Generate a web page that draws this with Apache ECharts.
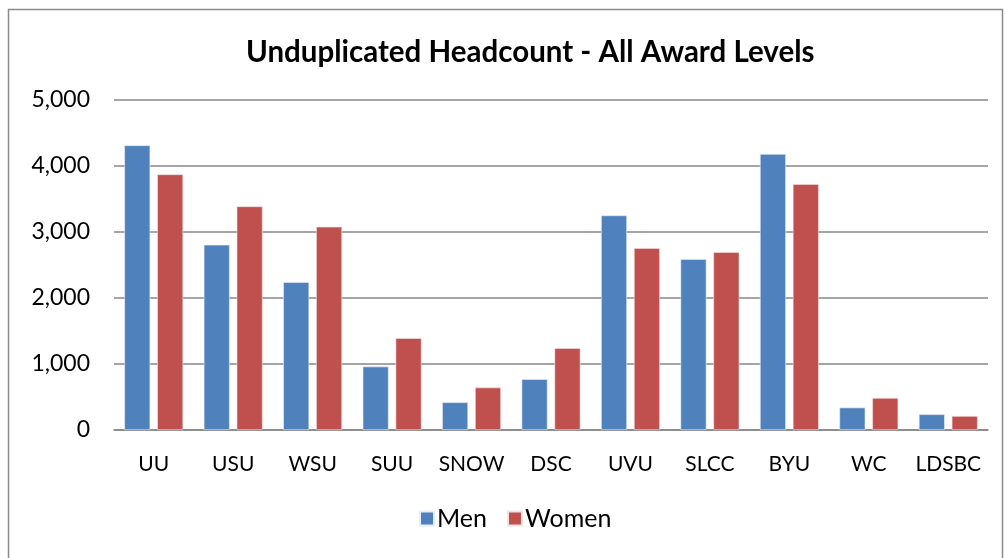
<!DOCTYPE html>
<html>
<head>
<meta charset="utf-8">
<script src="https://cdn.jsdelivr.net/npm/echarts@6/dist/echarts.min.js"></script>
<style>
html,body{margin:0;padding:0;background:#fff;}
#chart{width:1005px;height:558px;}
</style>
</head>
<body>
<div id="chart"></div>
<script>
var categories = ['UU','USU','WSU','SUU','SNOW','DSC','UVU','SLCC','BYU','WC','LDSBC'];
var men = [4313, 2806, 2240, 961, 420, 769, 3251, 2589, 4181, 340, 238];
var women = [3873, 3388, 3079, 1391, 643, 1239, 2756, 2695, 3726, 485, 212];
var yTicks = [0, 1000, 2000, 3000, 4000, 5000];

var FONT = 'Lato';
var chart = echarts.init(document.getElementById('chart'));
chart.setOption({
  animation: false,
  backgroundColor: '#fff',
  textStyle: {fontFamily: FONT},
  graphic: [{
    type: 'rect', left: 6, top: 7,
    shape: {width: 994, height: 560},
    style: {fill: 'none', stroke: '#8a8a8a', lineWidth: 1.5},
    silent: true
  }],
  title: {
    text: 'Unduplicated Headcount - All Award Levels',
    left: 241, top: 32,
    textStyle: {fontFamily: FONT, fontSize: 29.5, fontWeight: 'bold', color: '#000'}
  },
  legend: {
    data: ['Men', 'Women'],
    bottom: 22, left: 414,
    itemWidth: 14, itemHeight: 14, itemGap: 20,
    icon: 'rect',
    textStyle: {fontFamily: FONT, fontSize: 25, color: '#000', padding: [0, 0, 0, -2]}
  },
  grid: {left: 114, right: 17, top: 100, bottom: 128, containLabel: false},
  xAxis: {
    type: 'category',
    data: categories,
    axisLine: {show: true, lineStyle: {color: '#878787', width: 1.5}},
    axisTick: {show: false},
    axisLabel: {interval: 0, fontFamily: FONT, fontSize: 21, color: '#000', margin: 24}
  },
  yAxis: {
    type: 'value',
    min: yTicks[0], max: yTicks[yTicks.length - 1], interval: 1000,
    axisLine: {show: false},
    axisTick: {show: false},
    splitLine: {lineStyle: {color: '#878787', width: 1.5}},
    axisLabel: {
      fontFamily: FONT, fontSize: 23, color: '#000', margin: 24,
      formatter: function (v) { return v.toLocaleString('en-US'); }
    }
  },
  series: [
    {name: 'Men', type: 'bar', data: men, barGap: '27%', barCategoryGap: '26%',
     itemStyle: {color: '#4F81BD', borderColor: '#e8eef7', borderWidth: 0.6}},
    {name: 'Women', type: 'bar', data: women, barGap: '27%', barCategoryGap: '26%',
     itemStyle: {color: '#C0504D', borderColor: '#f5e3e3', borderWidth: 0.6}}
  ]
});
</script>
</body>
</html>
